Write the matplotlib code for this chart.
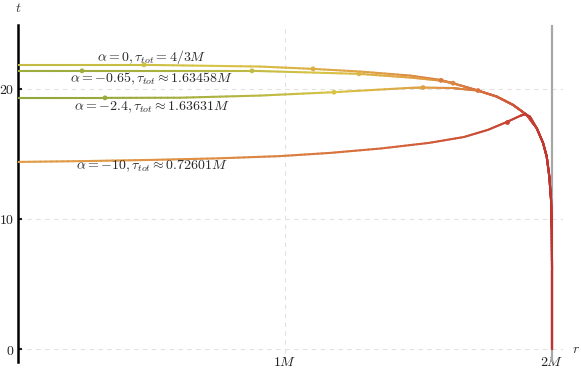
import numpy as np
import matplotlib
matplotlib.use('Agg')
import matplotlib.pyplot as plt
from matplotlib.collections import LineCollection
from matplotlib.colors import LinearSegmentedColormap

plt.rcParams['mathtext.fontset'] = 'cm'
plt.rcParams['font.family'] = 'serif'

# shared part of all curves close to the horizon (r in M units)
tail_r = [1.7228, 1.7929, 1.8539, 1.9052, 1.9427, 1.9663, 1.9801, 1.9899, 1.9963, 1.9989, 2.0, 2.0]
tail_t = [19.869, 19.408, 18.769, 18.0, 16.977, 15.846, 14.792, 13.254, 11.462, 9.154, 6.08, 0.0]

r_a0 = [0.0, 0.4719, 0.9064, 1.1022, 1.2809, 1.4682, 1.5805, 1.6292] + tail_r
t_a0 = [21.846, 21.846, 21.715, 21.538, 21.331, 21.023, 20.692, 20.438] + tail_t

r_a065 = [0.0, 0.2397, 0.6067, 0.8764, 1.2772, 1.4682, 1.5805, 1.6292] + tail_r
t_a065 = [21.385, 21.385, 21.385, 21.385, 21.154, 20.869, 20.638, 20.423] + tail_t

r_a24 = [0.0, 0.3258, 0.6067, 0.9064, 1.1835, 1.4682, 1.5169, 1.6292, 1.6554] + tail_r
t_a24 = [19.308, 19.308, 19.32, 19.485, 19.746, 20.077, 20.1, 20.062, 20.0] + tail_t

r_a10 = [0.0, 0.25, 0.5, 0.75, 0.98, 1.17, 1.36, 1.54, 1.67, 1.76, 1.8315, 1.8801, 1.8989, 1.9176] + tail_r[4:]
t_a10 = [14.385, 14.45, 14.54, 14.66, 14.83, 15.08, 15.42, 15.85, 16.3, 16.85, 17.462, 17.923, 18.054, 17.869] + tail_t[4:]

# dots on the curves
dots_r_a0 = [0.4719, 1.1049, 1.5843]
dots_t_a0 = [21.846, 21.538, 20.654]
dots_r_a065 = [0.2397, 0.8764, 1.2772, 1.6292]
dots_t_a065 = [21.385, 21.385, 21.154, 20.438]
dots_r_a24 = [0.3258, 1.1835, 1.5169, 1.7228]
dots_t_a24 = [19.308, 19.746, 20.1, 19.869]
dots_r_a10 = [1.8315]
dots_t_a10 = [17.462]

labels = [r'$\alpha = 0, \tau_{tot} = 4/3M$',
          r'$\alpha = -0.65, \tau_{tot} \approx 1.63458M$',
          r'$\alpha = -2.4, \tau_{tot} \approx 1.63631M$',
          r'$\alpha = -10, \tau_{tot} \approx 0.72601M$']
label_t = [22.46, 20.77, 18.6, 14.08]

cmap = LinearSegmentedColormap.from_list('fall', [
    (0.0, '#93a83c'), (0.35, '#d8c445'), (0.6, '#e09c46'),
    (0.8, '#d5643b'), (1.0, '#c0352f')])


def colour_value(r, c0):
    return c0 + (1 - c0) * (np.asarray(r) / 2.0) ** 2


def draw_curve(ax, r, t, c0):
    r = np.asarray(r, dtype=float)
    t = np.asarray(t, dtype=float)
    segs = []
    vals = []
    for i in range(len(r) - 1):
        for k in range(12):
            a = k / 12
            b = (k + 1) / 12
            p0 = (r[i] + a * (r[i + 1] - r[i]), t[i] + a * (t[i + 1] - t[i]))
            p1 = (r[i] + b * (r[i + 1] - r[i]), t[i] + b * (t[i + 1] - t[i]))
            segs.append([p0, p1])
            vals.append(colour_value((p0[0] + p1[0]) / 2, c0))
    lc = LineCollection(segs, colors=cmap(np.array(vals)), linewidths=1.5,
                        capstyle='round', joinstyle='round', zorder=3)
    ax.add_collection(lc)


fig = plt.figure(figsize=(5.81, 3.71), dpi=100)
ax = fig.add_axes([0.031, 0.024, 0.938, 0.909])
ax.set_xlim(0, 2.041)
ax.set_ylim(-1.0, 24.92)

# grid
for yv in [0, 10, 20]:
    ax.axhline(yv, color='#e2e2e2', lw=0.8, ls=(0, (4, 4)), zorder=0)
ax.axvline(1, color='#e2e2e2', lw=0.8, ls=(0, (4, 4)), zorder=0)

# horizon
ax.axvline(2, color='#a8a8a8', lw=1.6, zorder=2)

curves = [(r_a0, t_a0, 0.25, dots_r_a0, dots_t_a0),
          (r_a065, t_a065, 0.05, dots_r_a065, dots_t_a065),
          (r_a24, t_a24, 0.0, dots_r_a24, dots_t_a24),
          (r_a10, t_a10, 0.6, dots_r_a10, dots_t_a10)]
for r, t, c0, dr, dt in curves:
    draw_curve(ax, r, t, c0)
    ax.scatter(dr, dt, s=12, c=cmap(colour_value(dr, c0)), zorder=4, linewidths=0)

for lab, lt in zip(labels, label_t):
    ax.text(0.5, lt, lab, ha='center', va='center', fontsize=10, color='#2a2a2a', zorder=5)

# axes styling
for s in ['top', 'right']:
    ax.spines[s].set_visible(False)
ax.spines['left'].set_linewidth(1.8)
ax.spines['bottom'].set_position(('data', 0))
ax.spines['bottom'].set_visible(False)
ax.set_yticks([0, 10, 20])
ax.set_yticklabels(['$0$', '$10$', '$20$'])
ax.tick_params(axis='y', direction='in', length=3, width=1.5, pad=3, labelsize=10, colors='#222222')
ax.set_xticks([1, 2])
ax.set_xticklabels(['$1M$', '$2M$'])
ax.tick_params(axis='x', length=0, pad=4, labelsize=10, colors='#222222')

fig.text(18 / 581, 1 - 8 / 371, '$t$', ha='center', va='center', fontsize=10, color='#333333')
fig.text(576 / 581, 1 - 349 / 371, '$r$', ha='center', va='center', fontsize=10, color='#333333')

fig.savefig('out.png', dpi=100)
